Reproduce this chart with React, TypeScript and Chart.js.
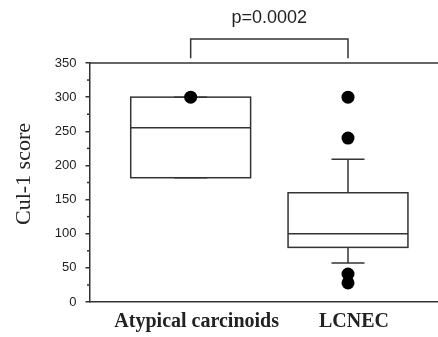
import React, { useEffect, useRef } from 'react';
import { Chart, registerables } from 'chart.js';

Chart.register(...registerables);

const categories = ['Atypical carcinoids', 'LCNEC'];
const positions = [1, 2];
const q1 = [182, 80];
const median = [255, 100];
const q3 = [300, 160];
const whiskerLow = [182, 57];
const whiskerHigh = [300, 209];
const outliers = [[300], [300, 240, 41, 28]];
const minorTicks = [25, 75, 125, 175, 225, 275, 325];
const pLabel = 'p=0.0002';
const yTitle = 'Cul-1 score';
const bracketTop = 385;
const bracketFoot = 357;

const W = 438;
const H = 337;
const LINE = '#333333';
const BOX_HALF = 0.381;
const CAP_HALF = 0.105;

const boxPlugin = {
  id: 'boxPlugin',
  beforeDatasetsDraw(chart: any) {
    const { ctx, chartArea } = chart;
    const x = chart.scales.x;
    const y = chart.scales.y;
    const seg = (x1: number, y1: number, x2: number, y2: number) => {
      ctx.beginPath();
      ctx.moveTo(x1, y1);
      ctx.lineTo(x2, y2);
      ctx.stroke();
    };
    ctx.save();
    ctx.strokeStyle = LINE;
    ctx.lineWidth = 1.5;
    // top frame line
    seg(chartArea.left, chartArea.top, chartArea.right, chartArea.top);
    // minor ticks
    minorTicks.forEach((v) => {
      const py = y.getPixelForValue(v);
      seg(chartArea.left - 2.5, py, chartArea.left, py);
    });
    positions.forEach((p, i) => {
      const cx = x.getPixelForValue(p);
      const half = x.getPixelForValue(p + BOX_HALF) - cx;
      const cap = x.getPixelForValue(p + CAP_HALF) - cx;
      const yq1 = y.getPixelForValue(q1[i]);
      const yq3 = y.getPixelForValue(q3[i]);
      const ym = y.getPixelForValue(median[i]);
      const yhi = y.getPixelForValue(whiskerHigh[i]);
      const ylo = y.getPixelForValue(whiskerLow[i]);
      ctx.strokeRect(cx - half, yq3, 2 * half, yq1 - yq3);
      seg(cx - half, ym, cx + half, ym);
      seg(cx, yq3, cx, yhi);
      seg(cx - cap, yhi, cx + cap, yhi);
      seg(cx, yq1, cx, ylo);
      seg(cx - cap, ylo, cx + cap, ylo);
    });
    // significance bracket
    const bx1 = x.getPixelForValue(positions[0]);
    const bx2 = x.getPixelForValue(positions[1]);
    const byt = y.getPixelForValue(bracketTop);
    const byf = y.getPixelForValue(bracketFoot);
    ctx.beginPath();
    ctx.moveTo(bx1, byf);
    ctx.lineTo(bx1, byt);
    ctx.lineTo(bx2, byt);
    ctx.lineTo(bx2, byf);
    ctx.stroke();
    ctx.fillStyle = '#222';
    ctx.font = '18px "Liberation Sans"';
    ctx.textAlign = 'center';
    ctx.textBaseline = 'middle';
    ctx.fillText(pLabel, (bx1 + bx2) / 2, 18);
    // y title
    ctx.translate(24, 174);
    ctx.rotate(-Math.PI / 2);
    ctx.font = '22px "Liberation Serif"';
    ctx.fillText(yTitle, 0, 0);
    ctx.restore();
  },
};

export default function App() {
  const ref = useRef<HTMLCanvasElement | null>(null);
  useEffect(() => {
    if (!ref.current) return;
    const points = outliers.flatMap((arr, i) => arr.map((v) => ({ x: positions[i], y: v })));
    const chart = new Chart(ref.current, {
      type: 'scatter',
      data: {
        datasets: [
          {
            data: points,
            pointRadius: 6.5,
            pointHoverRadius: 6.5,
            backgroundColor: '#000',
            borderWidth: 0,
          },
        ],
      },
      options: {
        animation: false,
        responsive: false,
        devicePixelRatio: 1,
        layout: { autoPadding: false, padding: { top: 63, right: 0, bottom: 0, left: 0 } },
        plugins: { legend: { display: false }, tooltip: { enabled: false } },
        scales: {
          x: {
            type: 'linear',
            min: 0.357,
            max: 2.572,
            afterBuildTicks: (axis: any) => {
              axis.ticks = positions.map((v) => ({ value: v }));
            },
            afterFit: (axis: any) => {
              axis.height = 35;
              axis.paddingLeft = 0;
              axis.paddingRight = 0;
            },
            ticks: {
              callback: (v: any) => {
                const i = positions.indexOf(Number(v));
                return i >= 0 ? categories[i] : '';
              },
              font: { family: '"Liberation Serif"', size: 20, weight: 'bold' },
              color: '#222',
              padding: 8,
              labelOffset: 6,
              maxRotation: 0,
              autoSkip: false,
            },
            grid: { display: false, drawTicks: false },
            border: { display: true, color: LINE, width: 1.5 },
          },
          y: {
            min: 0,
            max: 350,
            afterFit: (axis: any) => {
              axis.width = 89.5;
              axis.paddingTop = 0;
              axis.paddingBottom = 0;
            },
            ticks: {
              stepSize: 50,
              font: { family: '"Liberation Sans"', size: 13 },
              color: '#222',
              padding: 9,
            },
            grid: {
              display: true,
              drawOnChartArea: false,
              drawTicks: true,
              tickLength: 4,
              color: LINE,
              lineWidth: 1.5,
            },
            border: { display: true, color: LINE, width: 1.5 },
          },
        },
      },
      plugins: [boxPlugin],
    });
    return () => chart.destroy();
  }, []);
  return (
    <div style={{ position: 'absolute', left: 0, top: 0, width: W, height: H, background: '#fff' }}>
      <canvas ref={ref} width={W} height={H} style={{ display: 'block' }} />
    </div>
  );
}
